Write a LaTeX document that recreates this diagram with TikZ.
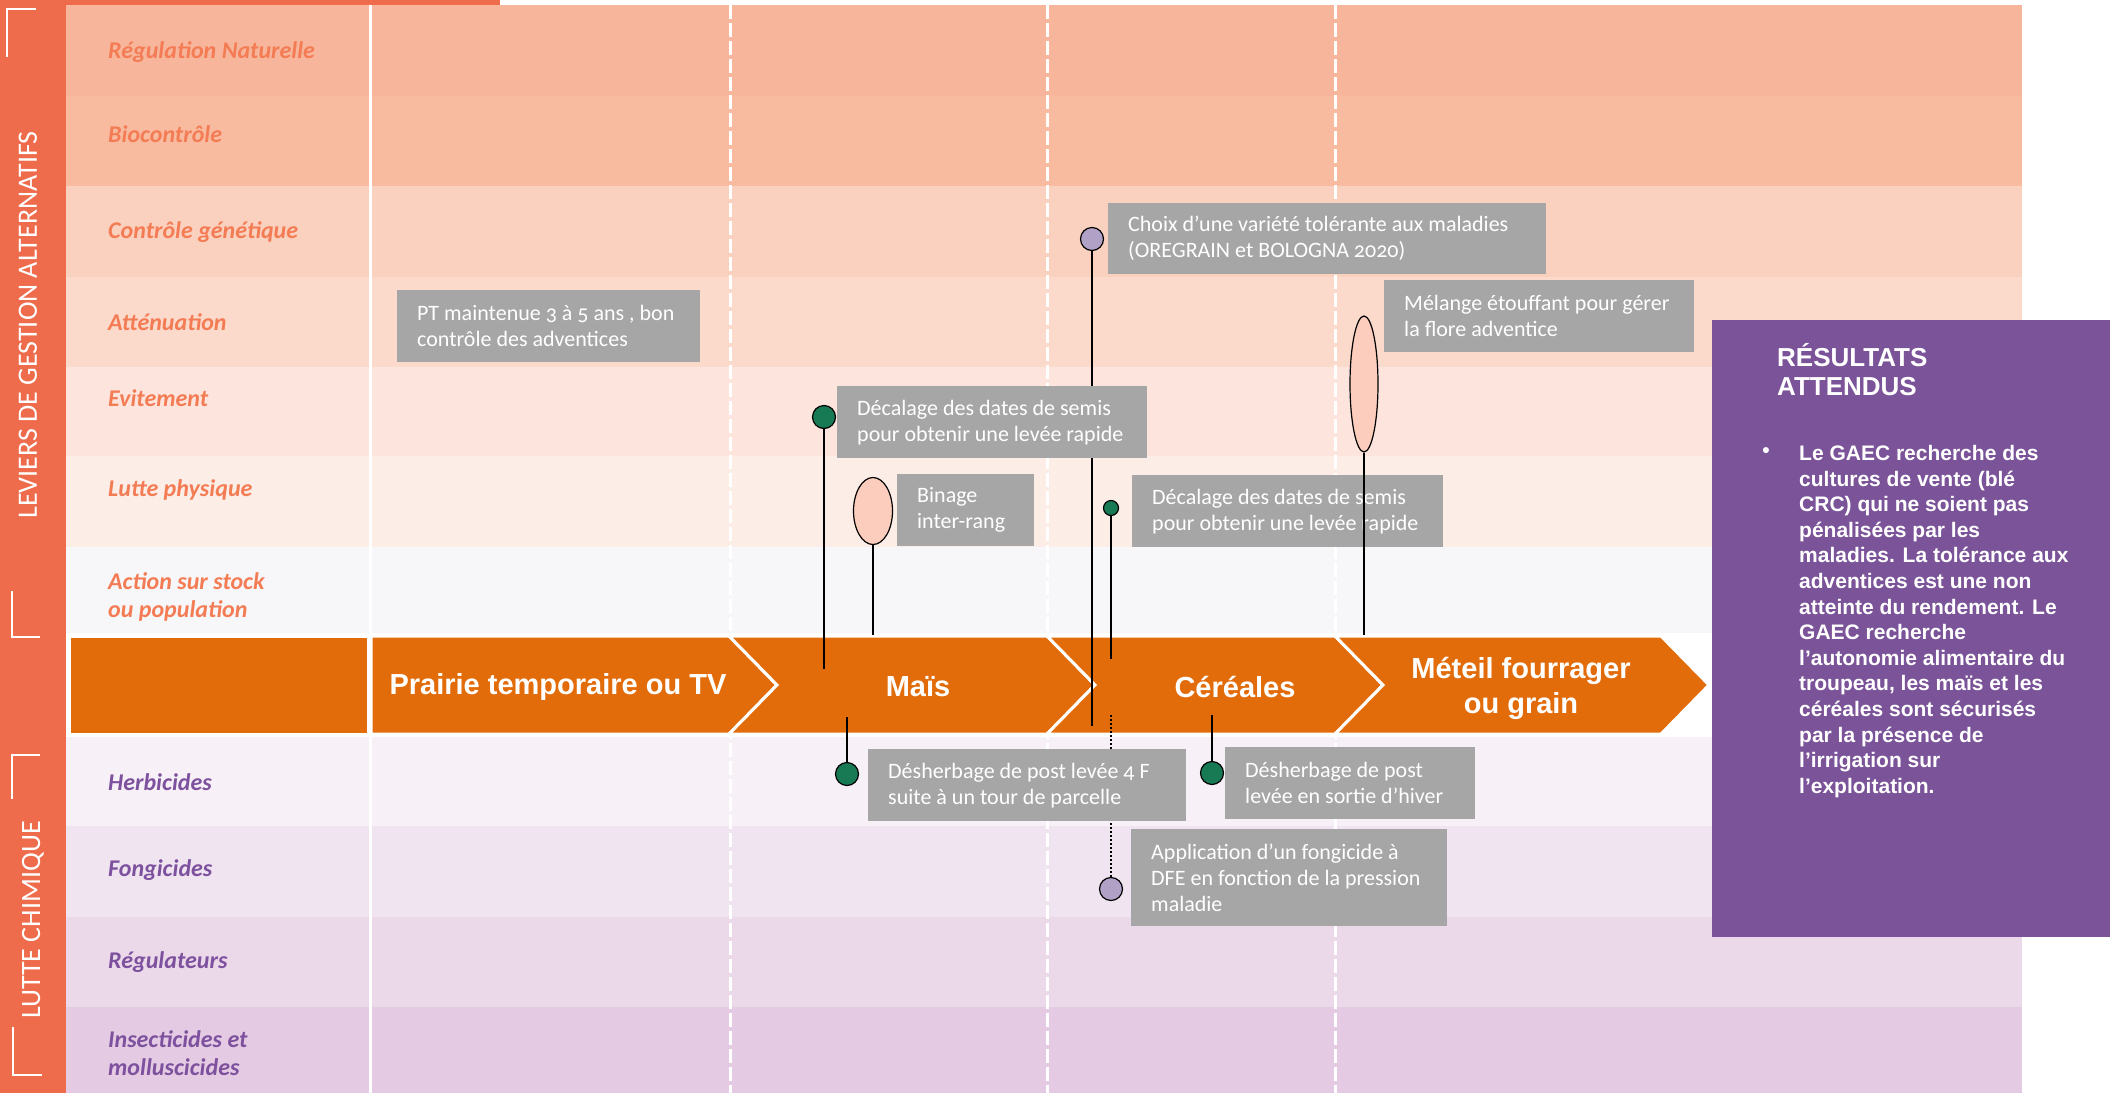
\documentclass[tikz,border=0pt]{standalone}
\usepackage{fontspec}
\setmainfont{Carlito}[Numbers=OldStyle]
\newfontfamily\arialfont{Liberation Sans}
\usepackage{xcolor}
\usetikzlibrary{
positioning,
shapes.geometric
}

\definecolor{sidebar}{HTML}{EE6B4B}
\definecolor{bandorange}{HTML}{E36C0A}
\definecolor{levorange}{HTML}{F47C55}
\definecolor{chempurple}{HTML}{7D519E}
\definecolor{notegray}{HTML}{A6A6A6}
\definecolor{dotgreen}{HTML}{187A55}
\definecolor{dotlilac}{HTML}{B2A1C7}
\definecolor{peach}{HTML}{FCCDBC}
\definecolor{resultpurple}{HTML}{7B5399}
\definecolor{rowa}{HTML}{F7B69B}
\definecolor{rowb}{HTML}{F8BBA0}
\definecolor{rowc}{HTML}{FAD0BE}
\definecolor{rowd}{HTML}{FBDACB}
\definecolor{rowe}{HTML}{FDE5DE}
\definecolor{rowf}{HTML}{FCEDE6}
\definecolor{rowg}{HTML}{F7F7F9}
\definecolor{rowh}{HTML}{F7F0F7}
\definecolor{rowi}{HTML}{F1E4F1}
\definecolor{rowj}{HTML}{EBD9EA}
\definecolor{rowk}{HTML}{E4CBE3}

\begin{document}
\begin{tikzpicture}[
      x=1pt, y=-1pt,
      lever/.style={
        font=\fontsize{24}{28.5}\selectfont\bfseries\itshape,
        text=levorange, anchor=west, align=left, inner sep=0pt
      },
      chem/.style={
        lever, text=chempurple
      },
      sidetext/.style={
        font=\fontsize{28}{32}\selectfont, text=white, rotate=90
      },
      corner/.style={
        draw=white, line width=2.5pt
      },
      divider/.style={
        draw=white, line width=3pt
      },
      dashdivider/.style={
        divider, dash pattern=on 14pt off 4pt
      },
      chevron/.style={
        fill=bandorange, draw=white, line width=3pt
      },
      phase/.style={
        font=\arialfont\fontsize{29}{35}\selectfont\bfseries, text=white, align=center
      },
      note/.style={
        fill=notegray, inner sep=0pt, anchor=north west
      },
      notetext/.style={
        font=\fontsize{22}{26}\selectfont, text=white, align=left,
        anchor=west, xshift=20pt, inner sep=0pt
      },
      pin/.style={
        draw=black, line width=2pt
      },
      greendot/.style={
        circle, fill=dotgreen, draw=black, line width=1.2pt,
        minimum size=23pt, inner sep=0pt
      },
      lilacdot/.style={
        greendot, fill=dotlilac
      },
      pebble/.style={
        ellipse, fill=peach, draw=black, line width=1.2pt, inner sep=0pt
      },
      result/.style={
        font=\arialfont\fontsize{21}{25.6}\selectfont\bfseries, text=white,
        align=left, anchor=north west, inner sep=0pt
      }
    ]
    \useasboundingbox (0,0) rectangle (2110,1093);
    \fill[white] (0,0) rectangle (2110,1093);

    \foreach \t/\b/\c in {5/96/rowa,96/186/rowb,186/277/rowc,277/367/rowd,367/456/rowe,456/547/rowf,547/633/rowg,737/826/rowh,826/917/rowi,917/1007/rowj,1007/1093/rowk}
      \fill[\c] (66,\t) rectangle (2022,\b);

    \node[lever] (l1) at (108,52) {Régulation Naturelle};
    \node[lever] (l2) at (108,134) {Biocontrôle};
    \node[lever] (l3) at (108,232) {Contrôle génétique};
    \node[lever] (l4) at (108,322) {Atténuation};
    \node[lever] (l5) at (108,398) {Evitement};
    \node[lever] (l6) at (108,490) {Lutte physique};
    \node[lever] (l7) at (108,597) {Action sur stock\\ou population};
    \node[chem] (l8) at (108,782) {Herbicides};
    \node[chem] (l9) at (108,870) {Fongicides};
    \node[chem] (l10) at (108,962) {Régulateurs};
    \node[chem] (l11) at (108,1053) {Insecticides et\\molluscicides};

    \coordinate (v0t) at (370,5);
    \coordinate (v0b) at (370,1093);
    \draw[divider] (v0t) -- (v0b);
    \foreach \x in {730,1047,1335}
      \draw[dashdivider] (\x,5) -- (\x,1093);

    \fill[sidebar] (0,0) rectangle (66,1093);
    \fill[sidebar] (0,0) rectangle (500,5);
    \draw[corner] (36,9) -- (7,9) -- (7,57);
    \draw[corner] (12,591) -- (12,637) -- (40,637);
    \draw[corner] (40,755) -- (12,755) -- (12,799);
    \draw[corner] (13,1027) -- (13,1075) -- (42,1075);
    \node[sidetext] (s1) at (28,325) {LEVIERS DE GESTION ALTERNATIFS};
    \node[sidetext] (s2) at (33,920) {LUTTE CHIMIQUE};

    % crop sequence
    \fill[white] (66,633) rectangle (2022,737);
    \node[fill=bandorange, minimum width=296pt, minimum height=95pt, inner sep=0pt] (b0) at (219,685.5) {};
    \filldraw[chevron] (371,636) -- (729,636) -- (777,685) -- (729,734) -- (371,734) -- cycle;
    \filldraw[chevron] (729,636) -- (1047,636) -- (1095,685) -- (1047,734) -- (729,734) -- (777,685) -- cycle;
    \filldraw[chevron] (1047,636) -- (1335,636) -- (1383,685) -- (1335,734) -- (1047,734) -- (1095,685) -- cycle;
    \filldraw[chevron] (1335,636) -- (1661,636) -- (1709,685) -- (1661,734) -- (1335,734) -- (1383,685) -- cycle;
    \node[phase] (p1) at (558,687) {Prairie temporaire ou TV};
    \node[phase] (p2) at (918,687) {Maïs};
    \node[phase] (p3) at (1235,687) {Céréales};
    \node[phase] (p4) at (1521,688) {Méteil fourrager\\ou grain};

    \node[lilacdot] (d4) at (1092,239) {};
    \coordinate (e4) at (1092,726);
    \draw[pin] (d4) -- (e4);
    \node[lilacdot] (d9) at (1111,889) {};
    \coordinate (e9) at (1111,713);
    \draw[pin, line width=1.5pt, dash pattern=on 2pt off 2pt] (d9) -- (e9);

    \node[note, minimum width=303pt, minimum height=72pt] (n1) at (397,290) {};
    \node[notetext] at(n1.west) (t1) {PT maintenue 3 à 5 ans , bon\\contrôle des adventices};
    \node[note, minimum width=310pt, minimum height=72pt] (n2) at (837,386) {};
    \node[notetext] at(n2.west) (t2) {Décalage des dates de semis\\pour obtenir une levée rapide};
    \node[note, minimum width=137pt, minimum height=72pt] (n3) at (897,474) {};
    \node[notetext] at(n3.west) (t3) {Binage\\inter-rang};
    \node[note, minimum width=438pt, minimum height=71pt] (n4) at (1108,203) {};
    \node[notetext] at(n4.west) (t4) {Choix d’une variété tolérante aux maladies\\(OREGRAIN et BOLOGNA 2020)};
    \node[note, minimum width=310pt, minimum height=72pt] (n5) at (1384,280) {};
    \node[notetext] at(n5.west) (t5) {Mélange étouffant pour gérer\\la flore adventice};
    \node[note, minimum width=311pt, minimum height=72pt] (n6) at (1132,475) {};
    \node[notetext] at(n6.west) (t6) {Décalage des dates de semis\\pour obtenir une levée rapide};
    \node[note, minimum width=318pt, minimum height=72pt] (n7) at (868,749) {};
    \node[notetext] at(n7.west) (t7) {Désherbage de post levée 4 F\\suite à un tour de parcelle};
    \node[note, minimum width=250pt, minimum height=72pt] (n8) at (1225,747) {};
    \node[notetext] at(n8.west) (t8) {Désherbage de post\\levée en sortie d’hiver};
    \node[note, minimum width=316pt, minimum height=97pt] (n9) at (1131,829) {};
    \node[notetext] at(n9.west) (t9) {Application d’un fongicide à\\DFE en fonction de la pression\\maladie};

    \node[greendot] (d2) at (824,417) {};
    \coordinate (e2) at (824,669);
    \draw[pin] (d2) -- (e2);
    \node[pebble, minimum width=39pt, minimum height=67pt] (d3) at (873,511) {};
    \coordinate (e3) at (873,635);
    \draw[pin] (d3) -- (e3);
    \node[pebble, minimum width=28pt, minimum height=136pt] (d5) at (1364,384) {};
    \coordinate (e5) at (1364,635);
    \draw[pin] (d5) -- (e5);
    \node[greendot, minimum size=15pt] (d6) at (1111,508) {};
    \coordinate (e6) at (1111,659);
    \draw[pin] (d6) -- (e6);
    \node[greendot] (d7) at (847,774) {};
    \coordinate (e7) at (847,717);
    \draw[pin] (d7) -- (e7);
    \node[greendot] (d8) at (1212,773) {};
    \coordinate (e8) at (1212,715);
    \draw[pin] (d8) -- (e8);

    \node[fill=resultpurple, inner sep=0pt, anchor=north west, minimum width=398pt, minimum height=617pt] (r0) at (1712,320) {};
    \node[result, font=\arialfont\fontsize{26}{29}\selectfont\bfseries] (r1) at (1777,343) {RÉSULTATS\\ATTENDUS};
    \node[result, anchor=center] (r2) at (1766,453) {•};
    \node[result] (r3) at (1799,445) {Le GAEC recherche des\\cultures de vente (blé\\CRC) qui ne soient pas\\pénalisées par les\\maladies. La tolérance aux\\adventices est une non\\atteinte du rendement. Le\\GAEC recherche\\l’autonomie alimentaire du\\troupeau, les maïs et les\\céréales sont sécurisés\\par la présence de\\l’irrigation sur\\l’exploitation.};

  \end{tikzpicture}
\end{document}
